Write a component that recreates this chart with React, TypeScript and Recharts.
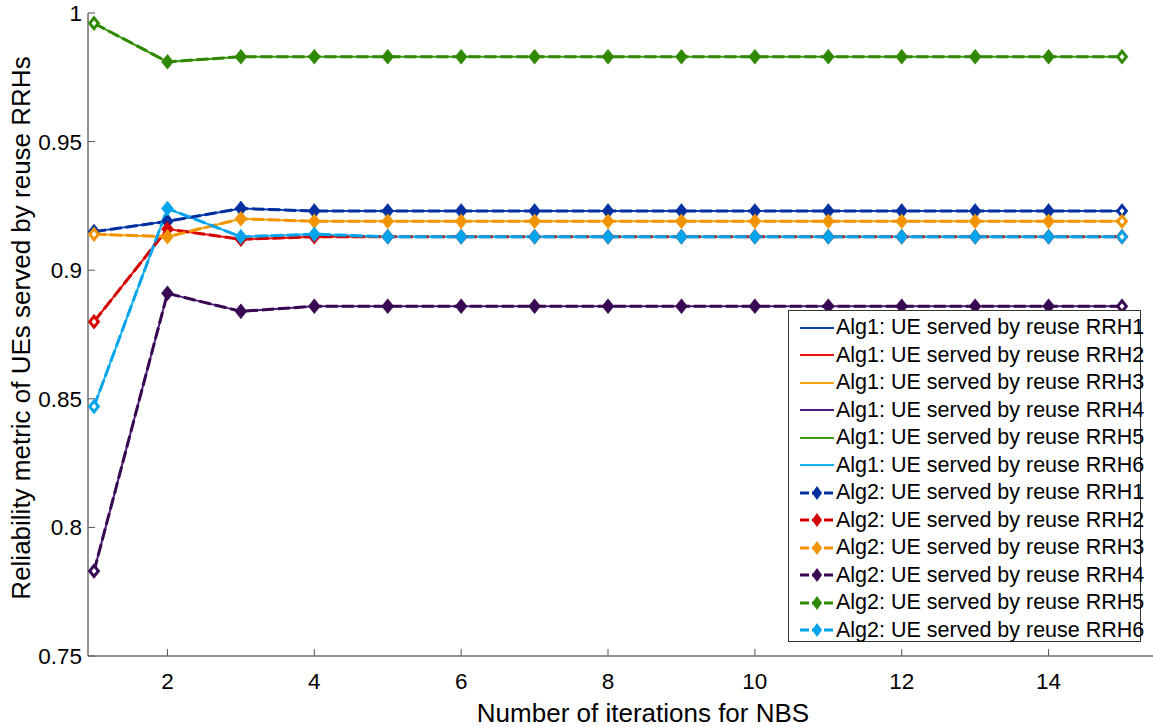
import { LineChart, Line, XAxis, YAxis } from "recharts";

// NBS iteration index
const iterations = [1, 2, 3, 4, 5, 6, 7, 8, 9, 10, 11, 12, 13, 14, 15];

// Alg1 reliability per reuse RRH
const alg1Rrh1 = [0.915, 0.919, 0.924, 0.923, 0.923, 0.923, 0.923, 0.923, 0.923, 0.923, 0.923, 0.923, 0.923, 0.923, 0.923];
const alg1Rrh2 = [0.88, 0.916, 0.912, 0.913, 0.913, 0.913, 0.913, 0.913, 0.913, 0.913, 0.913, 0.913, 0.913, 0.913, 0.913];
const alg1Rrh3 = [0.914, 0.913, 0.92, 0.919, 0.919, 0.919, 0.919, 0.919, 0.919, 0.919, 0.919, 0.919, 0.919, 0.919, 0.919];
const alg1Rrh4 = [0.783, 0.891, 0.884, 0.886, 0.886, 0.886, 0.886, 0.886, 0.886, 0.886, 0.886, 0.886, 0.886, 0.886, 0.886];
const alg1Rrh5 = [0.996, 0.981, 0.983, 0.983, 0.983, 0.983, 0.983, 0.983, 0.983, 0.983, 0.983, 0.983, 0.983, 0.983, 0.983];
const alg1Rrh6 = [0.847, 0.924, 0.913, 0.914, 0.913, 0.913, 0.913, 0.913, 0.913, 0.913, 0.913, 0.913, 0.913, 0.913, 0.913];

// Alg2 reliability per reuse RRH
const alg2Rrh1 = [0.915, 0.919, 0.924, 0.923, 0.923, 0.923, 0.923, 0.923, 0.923, 0.923, 0.923, 0.923, 0.923, 0.923, 0.923];
const alg2Rrh2 = [0.88, 0.916, 0.912, 0.913, 0.913, 0.913, 0.913, 0.913, 0.913, 0.913, 0.913, 0.913, 0.913, 0.913, 0.913];
const alg2Rrh3 = [0.914, 0.913, 0.92, 0.919, 0.919, 0.919, 0.919, 0.919, 0.919, 0.919, 0.919, 0.919, 0.919, 0.919, 0.919];
const alg2Rrh4 = [0.783, 0.891, 0.884, 0.886, 0.886, 0.886, 0.886, 0.886, 0.886, 0.886, 0.886, 0.886, 0.886, 0.886, 0.886];
const alg2Rrh5 = [0.996, 0.981, 0.983, 0.983, 0.983, 0.983, 0.983, 0.983, 0.983, 0.983, 0.983, 0.983, 0.983, 0.983, 0.983];
const alg2Rrh6 = [0.847, 0.924, 0.913, 0.914, 0.913, 0.913, 0.913, 0.913, 0.913, 0.913, 0.913, 0.913, 0.913, 0.913, 0.913];

const xTicks = [2, 4, 6, 8, 10, 12, 14];
const yTicks = [0.75, 0.8, 0.85, 0.9, 0.95, 1];
const yTickLabels = ["0.75", "0.8", "0.85", "0.9", "0.95", "1"];

const alg1Colors = ["#0b3fb0", "#e81212", "#f5a00c", "#4d1a7c", "#3f9a16", "#14b0f4"];
const alg2Colors = ["#0030a0", "#d40000", "#f29400", "#380852", "#2e8800", "#04a4ec"];
const rrhNames = ["RRH1", "RRH2", "RRH3", "RRH4", "RRH5", "RRH6"];

const alg1Series = [alg1Rrh1, alg1Rrh2, alg1Rrh3, alg1Rrh4, alg1Rrh5, alg1Rrh6];
const alg2Series = [alg2Rrh1, alg2Rrh2, alg2Rrh3, alg2Rrh4, alg2Rrh5, alg2Rrh6];

const rows = iterations.map((it, i) => {
  const row: Record<string, number> = { it };
  alg1Series.forEach((s, k) => (row[`a1_${k}`] = s[i]));
  alg2Series.forEach((s, k) => (row[`a2_${k}`] = s[i]));
  return row;
});

const FONT = '"Liberation Sans", Arial, sans-serif';

function diamond(cx: number, cy: number, w: number, h: number) {
  return `M${cx},${cy - h}L${cx + w},${cy}L${cx},${cy + h}L${cx - w},${cy}Z`;
}

// filled diamonds; the first and last ones get a small white core
function makeDot(color: string) {
  return (props: any) => {
    const { cx, cy, index } = props;
    if (cx == null || cy == null) return <g key={`d-${index}`} />;
    const edge = index === 0 || index === iterations.length - 1;
    return (
      <g key={`d-${index}`}>
        <path d={diamond(cx, cy, 6, 7.5)} fill={color} stroke={color} strokeWidth={0.5} />
        {edge && <path d={diamond(cx, cy, 2.5, 3)} fill="#ffffff" />}
      </g>
    );
  };
}

function ChartLegend() {
  const entries = [
    ...rrhNames.map((n, k) => ({ label: `Alg1: UE served by reuse ${n}`, color: alg1Colors[k], marker: false })),
    ...rrhNames.map((n, k) => ({ label: `Alg2: UE served by reuse ${n}`, color: alg2Colors[k], marker: true })),
  ];
  return (
    <div
      style={{
        position: "absolute",
        left: 788,
        top: 310,
        width: 353,
        height: 332,
        border: "1px solid #333",
        background: "#fff",
        boxSizing: "border-box",
        fontFamily: FONT,
        fontSize: 21.5,
        color: "#000",
      }}
    >
      {entries.map((e, i) => (
        <div
          key={e.label}
          style={{
            position: "absolute",
            left: 10,
            top: 3 + i * 27.5,
            height: 27.5,
            display: "flex",
            alignItems: "center",
            whiteSpace: "nowrap",
          }}
        >
          <svg width={37} height={20}>
            {e.marker ? (
              <>
                <line x1={1} y1={10} x2={35} y2={10} stroke={e.color} strokeWidth={3} strokeDasharray="9 3" />
                <path d={diamond(18, 10, 5, 7)} fill={e.color} />
              </>
            ) : (
              <line x1={1} y1={10} x2={35} y2={10} stroke={e.color} strokeWidth={2} />
            )}
          </svg>
          <span>{e.label}</span>
        </div>
      ))}
    </div>
  );
}

export default function App() {
  return (
    <div style={{ position: "absolute", left: 0, top: 0, width: 1153, height: 727, background: "#fff" }}>
      <LineChart width={1153} height={727} data={rows} margin={{ top: 13, right: 0, left: 0, bottom: 0 }}>
        <XAxis
          dataKey="it"
          type="number"
          domain={[0.918, 15.422]}
          allowDataOverflow
          ticks={xTicks}
          height={71}
          tickSize={-7}
          tickMargin={24}
          axisLine={{ stroke: "#262626" }}
          tickLine={{ stroke: "#555" }}
          tick={{ fill: "#000", fontSize: 22.5, fontFamily: FONT }}
        />
        <XAxis
          xAxisId="top"
          orientation="top"
          dataKey="it"
          type="number"
          domain={[0.918, 15.422]}
          allowDataOverflow
          ticks={xTicks}
          height={0}
          tickSize={-7}
          axisLine={{ stroke: "#262626" }}
          tickLine={{ stroke: "#555" }}
          tick={false}
        />
        <YAxis
          type="number"
          domain={[0.75, 1]}
          ticks={yTicks}
          width={88}
          tickSize={-7}
          tickMargin={13}
          interval={0}
          tickFormatter={(v: number) => yTickLabels[yTicks.indexOf(v)] ?? String(v)}
          axisLine={{ stroke: "#262626" }}
          tickLine={{ stroke: "#555" }}
          tick={{ fill: "#000", fontSize: 22.5, fontFamily: FONT }}
        />
        {alg1Colors.map((c, k) => (
          <Line
            key={`a1_${k}`}
            dataKey={`a1_${k}`}
            type="linear"
            stroke={c}
            strokeWidth={2}
            dot={false}
            activeDot={false}
            isAnimationActive={false}
          />
        ))}
        {alg2Colors.map((c, k) => (
          <Line
            key={`a2_${k}`}
            dataKey={`a2_${k}`}
            type="linear"
            stroke={c}
            strokeWidth={3}
            strokeDasharray="12 4"
            dot={makeDot(c)}
            activeDot={false}
            isAnimationActive={false}
          />
        ))}
      </LineChart>
      <ChartLegend />
      <div
        style={{
          position: "absolute",
          left: 643,
          top: 713,
          transform: "translate(-50%, -50%)",
          fontFamily: FONT,
          fontSize: 26,
          whiteSpace: "nowrap",
          color: "#000",
        }}
      >
        Number of iterations for NBS
      </div>
      <div
        style={{
          position: "absolute",
          left: 21,
          top: 328,
          transform: "translate(-50%, -50%) rotate(-90deg)",
          fontFamily: FONT,
          fontSize: 26,
          whiteSpace: "nowrap",
          color: "#000",
        }}
      >
        Reliability metric of UEs served by reuse RRHs
      </div>
    </div>
  );
}
